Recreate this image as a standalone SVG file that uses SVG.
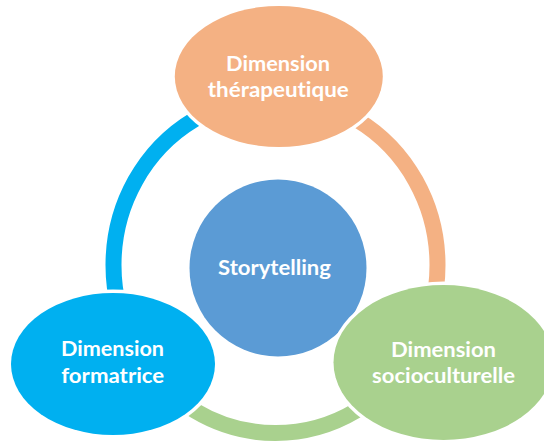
<svg xmlns="http://www.w3.org/2000/svg" width="544" height="442" viewBox="0 0 544 442">
  <style>
    .arc { fill: none; stroke-width: 16; stroke-linecap: butt; }
    .halo { fill: #ffffff; }
    .lbl { font-family: Lato, "Open Sans", "Liberation Sans", sans-serif; font-weight: 700; font-size: 20px; fill: #ffffff; text-anchor: middle; font-variant-ligatures: none; }
  </style>
  <rect width="544" height="442" fill="#ffffff"/>
  <g id="connectors">
    <path class="arc" stroke="#00B0F0" d="M 275.5 97 A 162 168 0 0 0 135.2 349"/>
    <path class="arc" stroke="#F4B183" d="M 275.5 97 A 162 168 0 0 1 415.8 349"/>
    <path class="arc" stroke="#A9D18E" d="M 135.2 349 A 162 168 0 0 0 415.8 349"/>
  </g>
  <g id="node-storytelling">
    <circle class="halo" cx="278" cy="268" r="91"/>
    <circle cx="278" cy="268" r="88.5" fill="#5B9BD5"/>
    <text class="lbl" x="274.5" y="275" textLength="113" lengthAdjust="spacingAndGlyphs">Storytelling</text>
  </g>
  <g id="node-therapeutique">
    <ellipse class="halo" cx="278.8" cy="76.5" rx="107.5" ry="74"/>
    <ellipse cx="278.8" cy="76.5" rx="104" ry="70.5" fill="#F4B183"/>
    <text class="lbl" x="278" y="71" textLength="104" lengthAdjust="spacingAndGlyphs">Dimension</text>
    <text class="lbl" x="278.3" y="96.5" textLength="141" lengthAdjust="spacingAndGlyphs">thérapeutique</text>
  </g>
  <g id="node-formatrice">
    <ellipse class="halo" cx="113" cy="364" rx="105.5" ry="74.5"/>
    <ellipse cx="113" cy="364" rx="102" ry="71" fill="#00B0F0"/>
    <text class="lbl" x="112.5" y="356" textLength="103" lengthAdjust="spacingAndGlyphs">Dimension</text>
    <text class="lbl" x="112.7" y="382.7" textLength="103" lengthAdjust="spacingAndGlyphs">formatrice</text>
  </g>
  <g id="node-socioculturelle">
    <ellipse class="halo" cx="443.5" cy="362.5" rx="113.5" ry="81"/>
    <ellipse cx="443.5" cy="362.5" rx="110" ry="77.5" fill="#A9D18E"/>
    <text class="lbl" x="443.5" y="356.7" textLength="105" lengthAdjust="spacingAndGlyphs">Dimension</text>
    <text class="lbl" x="443.5" y="383.3" textLength="143" lengthAdjust="spacingAndGlyphs">socioculturelle</text>
  </g>
</svg>
